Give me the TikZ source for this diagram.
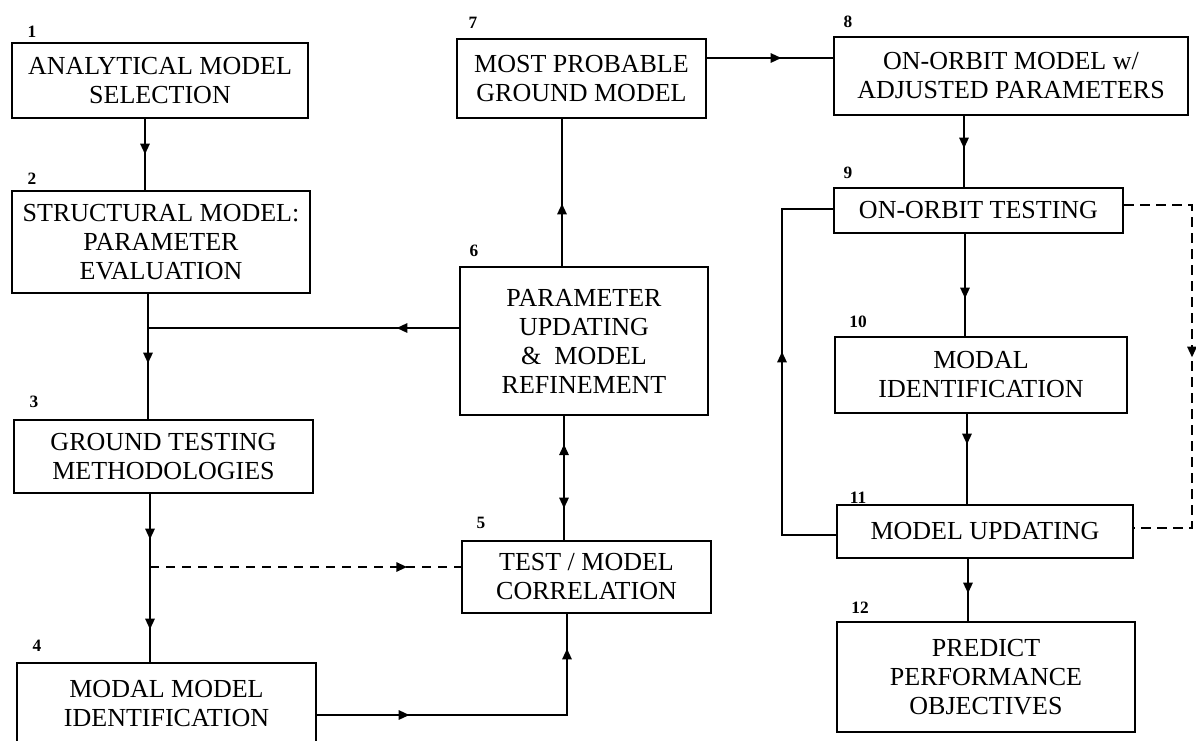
\documentclass[tikz,border=0pt]{standalone}
\usepackage{fontspec}
\setmainfont{Liberation Serif}
\usetikzlibrary{arrows.meta,decorations.markings}

\tikzset{
  box/.style={draw, line width=2pt, inner sep=0pt, align=center,
    font=\fontsize{19.5}{21.75}\selectfont},
  num/.style={font=\fontsize{13}{15}\selectfont\bfseries, inner sep=0pt},
  conn/.style={line width=1.4pt},
  dashconn/.style={line width=1.4pt, dash pattern=on 7pt off 5pt},
  arrowat/.style={postaction={decorate, solid, decoration={markings,
    mark=at position #1 with {\arrow{Triangle[length=8pt,width=7pt]}}}}},
  arrowback/.style={postaction={decorate, solid, decoration={markings,
    mark=at position #1 with {\arrowreversed{Triangle[length=8pt,width=7pt]}}}}},
}

\begin{document}
\begin{tikzpicture}[x=0.75pt, y=-0.75pt]
  \useasboundingbox (0,0) rectangle (1196,740);
  \clip (0,0) rectangle (1196,740);

  % process boxes
  \node[box, minimum width=296*0.75pt, minimum height=75*0.75pt]  (b1)  at (160,80.5)   {ANALYTICAL MODEL\\SELECTION};
  \node[box, minimum width=298*0.75pt, minimum height=102*0.75pt] (b2)  at (161,242)    {STRUCTURAL MODEL:\\PARAMETER\\EVALUATION};
  \node[box, minimum width=299*0.75pt, minimum height=73*0.75pt]  (b3)  at (163.5,456.5) {GROUND TESTING\\METHODOLOGIES};
  \node[box, minimum width=299*0.75pt, minimum height=82*0.75pt]  (b4)  at (166.5,704)  {MODAL MODEL\\IDENTIFICATION};
  \node[box, minimum width=249*0.75pt, minimum height=72*0.75pt]  (b5)  at (586.5,577)  {TEST / MODEL\\CORRELATION};
  \node[box, minimum width=248*0.75pt, minimum height=148*0.75pt] (b6)  at (584,341)    {PARAMETER\\UPDATING\\\&\ \ MODEL\\REFINEMENT};
  \node[box, minimum width=249*0.75pt, minimum height=79*0.75pt]  (b7)  at (581.5,78.5) {MOST PROBABLE\\GROUND MODEL};
  \node[box, minimum width=354*0.75pt, minimum height=78*0.75pt]  (b8)  at (1011,76)    {ON-ORBIT MODEL w/\\ADJUSTED PARAMETERS};
  \node[box, minimum width=289*0.75pt, minimum height=45*0.75pt]  (b9)  at (978.5,210.5) {ON-ORBIT TESTING};
  \node[box, minimum width=292*0.75pt, minimum height=76*0.75pt]  (b10) at (981,375)    {MODAL\\IDENTIFICATION};
  \node[box, minimum width=296*0.75pt, minimum height=53*0.75pt]  (b11) at (985,531.5)  {MODEL UPDATING};
  \node[box, minimum width=298*0.75pt, minimum height=110*0.75pt] (b12) at (986,677)    {PREDICT\\PERFORMANCE\\OBJECTIVES};

  % step numbers
  \node[num] (l1)  at (32,32)   {1};
  \node[num] (l2)  at (32,179)  {2};
  \node[num] (l3)  at (34,402)  {3};
  \node[num] (l4)  at (37,646)  {4};
  \node[num] (l5)  at (481,523) {5};
  \node[num] (l6)  at (474,251) {6};
  \node[num] (l7)  at (473,23)  {7};
  \node[num] (l8)  at (848,22)  {8};
  \node[num] (l9)  at (848,173) {9};
  \node[num] (l10) at (858,322) {10};
  \node[num] (l11) at (858,498) {11};
  \node[num] (l12) at (860,608) {12};

  % routing points
  \coordinate (c1)  at (145,0);
  \coordinate (c2)  at (148,328);
  \coordinate (c3)  at (150,567);
  \coordinate (c4)  at (567,715);
  \coordinate (c5)  at (564,0);
  \coordinate (c6)  at (562,58);
  \coordinate (c8)  at (964,0);
  \coordinate (c9)  at (965,0);
  \coordinate (c10) at (967,0);
  \coordinate (c11) at (968,0);
  \coordinate (c12) at (782,535);
  \coordinate (c13) at (782,209);
  \coordinate (c14) at (1192,205);
  \coordinate (c15) at (1192,528);

  % left column
  \draw[conn, arrowat={35*0.75pt}] (b1.south -| c1) -- (b2.north -| c1);
  \draw[conn, arrowat={69*0.75pt}] (b2.south -| c2) -- (b3.north -| c2);
  \draw[conn, arrowat={62*0.75pt}] (b6.west |- c2) -- (c2);
  \draw[conn, arrowat={45*0.75pt}, arrowat={135*0.75pt}] (b3.south -| c3) -- (b4.north -| c3);
  \draw[dashconn, arrowat={257*0.75pt}] (c3) -- (b5.west |- c3);

  % middle column
  \draw[conn, arrowat={92*0.75pt}, arrowat={316*0.75pt}] (b4.east |- c4) -- (c4) -- (b5.south -| c4);
  \draw[conn, arrowat={92*0.75pt}, arrowback={28*0.75pt}] (b6.south -| c5) -- (b5.north -| c5);
  \draw[conn, arrowat={62*0.75pt}] (b6.north -| c6) -- (b7.south -| c6);
  \draw[conn, arrowat={74*0.75pt}] (b7.east |- c6) -- (b8.west |- c6);

  % right column
  \draw[conn, arrowat={32*0.75pt}] (b8.south -| c8) -- (b9.north -| c8);
  \draw[conn, arrowat={64*0.75pt}] (b9.south -| c9) -- (b10.north -| c9);
  \draw[conn, arrowat={30*0.75pt}] (b10.south -| c10) -- (b11.north -| c10);
  \draw[conn, arrowat={34*0.75pt}] (b11.south -| c11) -- (b12.north -| c11);

  % on-orbit loops
  \draw[conn, arrowat={237*0.75pt}] (b11.west |- c12) -- (c12) -- (c13) -- (b9.west |- c13);
  \draw[dashconn, arrowat={220*0.75pt}] (b9.east |- c14) -- (c14) -- (c15) -- (b11.east |- c15);
\end{tikzpicture}
\end{document}
